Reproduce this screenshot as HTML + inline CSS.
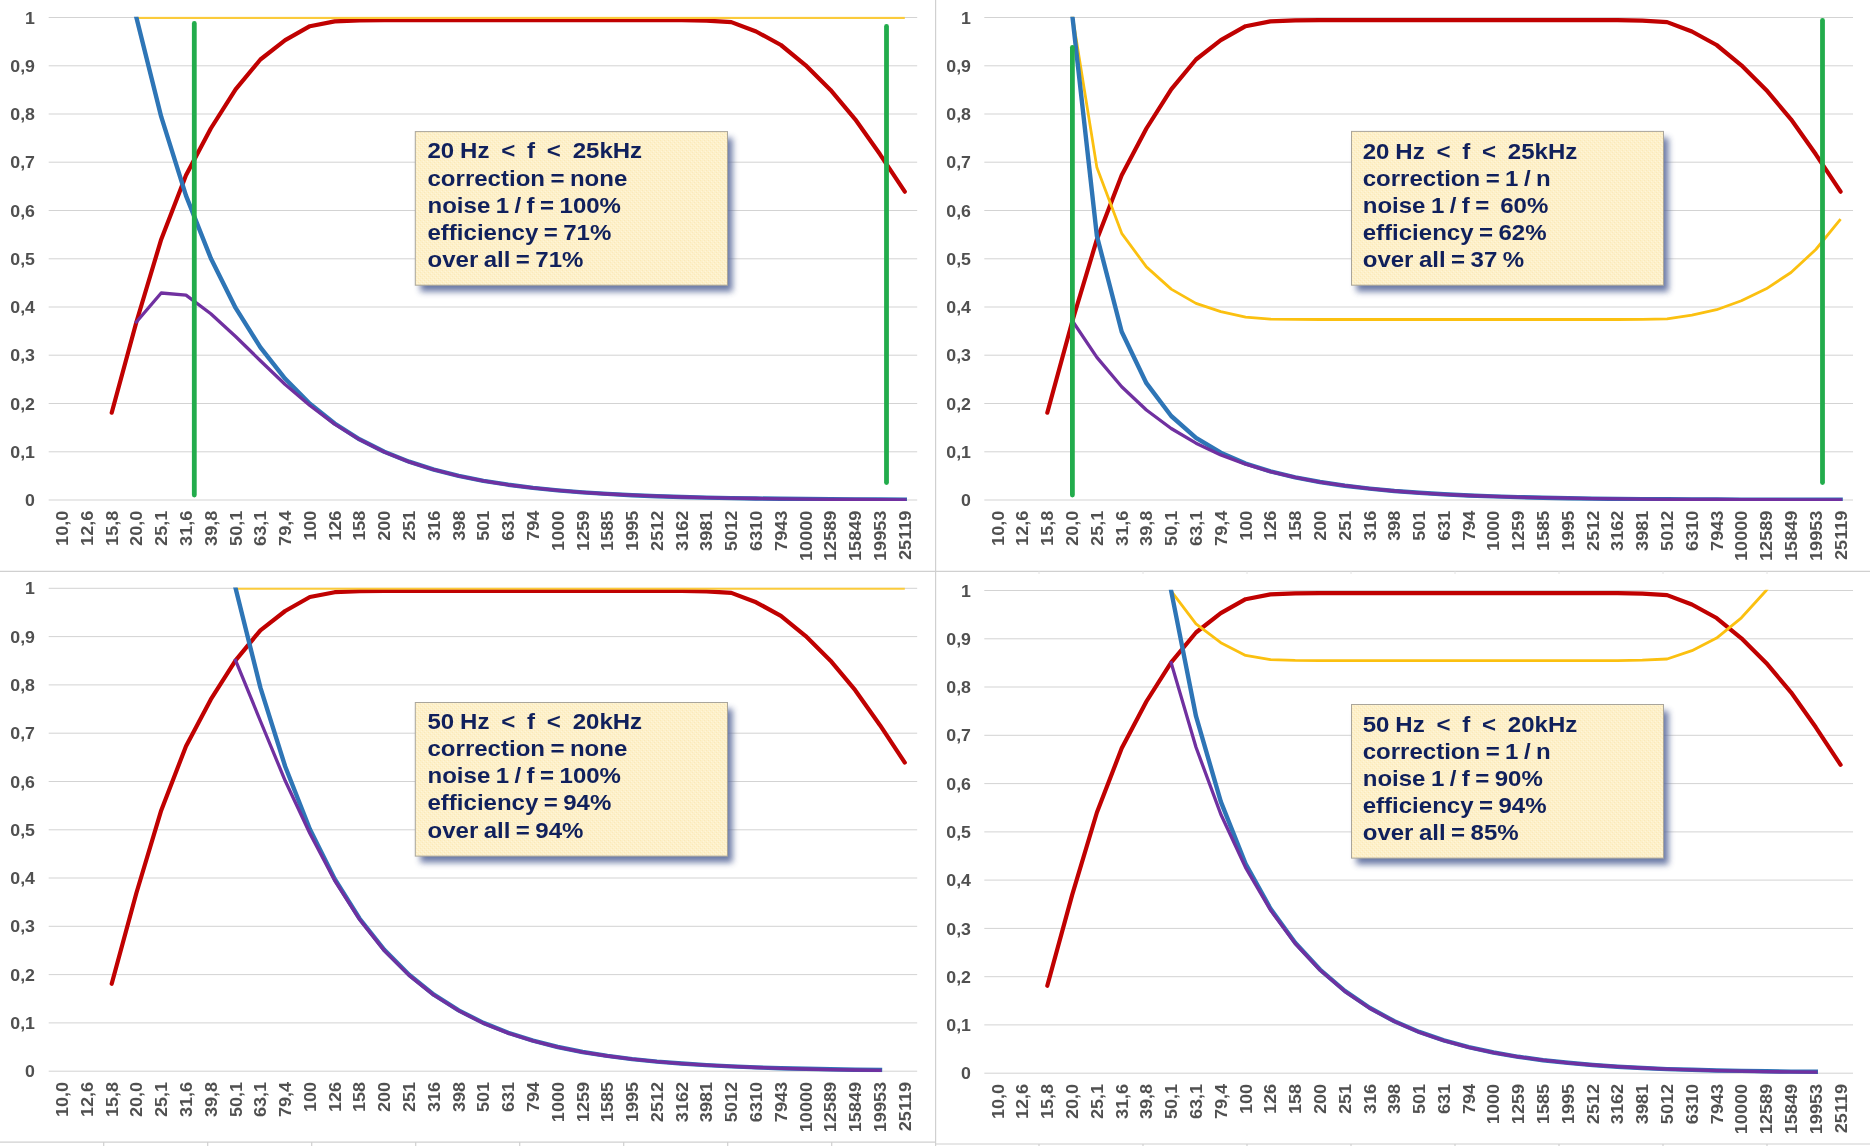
<!DOCTYPE html>
<html><head><meta charset="utf-8"><title>chart</title>
<style>
html,body{margin:0;padding:0;background:#fff;}
body{width:1870px;height:1146px;overflow:hidden;position:relative;font-family:"Liberation Sans",sans-serif;}
svg text{font-family:"Liberation Sans",sans-serif;}
</style></head><body>
<svg width="1870" height="1146" viewBox="0 0 1870 1146" style="position:absolute;left:0;top:0;opacity:0.9999;will-change:transform">
<defs>
<filter id="sh" x="-10%" y="-10%" width="125%" height="130%"><feGaussianBlur stdDeviation="3.0"/></filter>
<pattern id="tx" width="4" height="4" patternUnits="userSpaceOnUse"><rect width="4" height="4" fill="#fdf0ca"/><rect x="0" y="0" width="1" height="1" fill="#fbe9b8"/><rect x="2" y="2" width="1" height="1" fill="#fbe9b8"/><rect x="1" y="3" width="1" height="1" fill="#fff6d8"/><rect x="3" y="1" width="1" height="1" fill="#fff6d8"/></pattern>
</defs>
<rect width="1870" height="1146" fill="#ffffff"/>
<line x1="0" y1="571.4" x2="1870" y2="571.4" stroke="#d0d0d0" stroke-width="1.2"/>
<line x1="935.6" y1="0" x2="935.6" y2="1146" stroke="#d0d0d0" stroke-width="1.2"/>
<line x1="0" y1="1142.2" x2="935" y2="1142.2" stroke="#d0d0d0" stroke-width="1.2"/>
<line x1="936" y1="1144" x2="1870" y2="1144" stroke="#d0d0d0" stroke-width="1.2"/>
<line x1="103.7" y1="1142" x2="103.7" y2="1146" stroke="#d0d0d0" stroke-width="1.2"/>
<line x1="1039.0" y1="1144" x2="1039.0" y2="1146" stroke="#d0d0d0" stroke-width="1.2"/>
<line x1="1039.0" y1="571.4" x2="1039.0" y2="574" stroke="#e4e4e4" stroke-width="1"/>
<line x1="207.7" y1="1142" x2="207.7" y2="1146" stroke="#d0d0d0" stroke-width="1.2"/>
<line x1="1143.0" y1="1144" x2="1143.0" y2="1146" stroke="#d0d0d0" stroke-width="1.2"/>
<line x1="1143.0" y1="571.4" x2="1143.0" y2="574" stroke="#e4e4e4" stroke-width="1"/>
<line x1="311.7" y1="1142" x2="311.7" y2="1146" stroke="#d0d0d0" stroke-width="1.2"/>
<line x1="1247.0" y1="1144" x2="1247.0" y2="1146" stroke="#d0d0d0" stroke-width="1.2"/>
<line x1="1247.0" y1="571.4" x2="1247.0" y2="574" stroke="#e4e4e4" stroke-width="1"/>
<line x1="415.7" y1="1142" x2="415.7" y2="1146" stroke="#d0d0d0" stroke-width="1.2"/>
<line x1="1351.0" y1="1144" x2="1351.0" y2="1146" stroke="#d0d0d0" stroke-width="1.2"/>
<line x1="1351.0" y1="571.4" x2="1351.0" y2="574" stroke="#e4e4e4" stroke-width="1"/>
<line x1="519.7" y1="1142" x2="519.7" y2="1146" stroke="#d0d0d0" stroke-width="1.2"/>
<line x1="1455.0" y1="1144" x2="1455.0" y2="1146" stroke="#d0d0d0" stroke-width="1.2"/>
<line x1="1455.0" y1="571.4" x2="1455.0" y2="574" stroke="#e4e4e4" stroke-width="1"/>
<line x1="623.7" y1="1142" x2="623.7" y2="1146" stroke="#d0d0d0" stroke-width="1.2"/>
<line x1="1559.0" y1="1144" x2="1559.0" y2="1146" stroke="#d0d0d0" stroke-width="1.2"/>
<line x1="1559.0" y1="571.4" x2="1559.0" y2="574" stroke="#e4e4e4" stroke-width="1"/>
<line x1="727.7" y1="1142" x2="727.7" y2="1146" stroke="#d0d0d0" stroke-width="1.2"/>
<line x1="1663.0" y1="1144" x2="1663.0" y2="1146" stroke="#d0d0d0" stroke-width="1.2"/>
<line x1="1663.0" y1="571.4" x2="1663.0" y2="574" stroke="#e4e4e4" stroke-width="1"/>
<line x1="831.7" y1="1142" x2="831.7" y2="1146" stroke="#d0d0d0" stroke-width="1.2"/>
<line x1="1767.0" y1="1144" x2="1767.0" y2="1146" stroke="#d0d0d0" stroke-width="1.2"/>
<line x1="1767.0" y1="571.4" x2="1767.0" y2="574" stroke="#e4e4e4" stroke-width="1"/>
<g id="TL">
<line x1="48.7" y1="500.0" x2="917.2" y2="500.0" stroke="#d3d3d3" stroke-width="1"/>
<line x1="48.7" y1="451.8" x2="917.2" y2="451.8" stroke="#d3d3d3" stroke-width="1"/>
<line x1="48.7" y1="403.5" x2="917.2" y2="403.5" stroke="#d3d3d3" stroke-width="1"/>
<line x1="48.7" y1="355.2" x2="917.2" y2="355.2" stroke="#d3d3d3" stroke-width="1"/>
<line x1="48.7" y1="307.0" x2="917.2" y2="307.0" stroke="#d3d3d3" stroke-width="1"/>
<line x1="48.7" y1="258.8" x2="917.2" y2="258.8" stroke="#d3d3d3" stroke-width="1"/>
<line x1="48.7" y1="210.5" x2="917.2" y2="210.5" stroke="#d3d3d3" stroke-width="1"/>
<line x1="48.7" y1="162.2" x2="917.2" y2="162.2" stroke="#d3d3d3" stroke-width="1"/>
<line x1="48.7" y1="114.0" x2="917.2" y2="114.0" stroke="#d3d3d3" stroke-width="1"/>
<line x1="48.7" y1="65.8" x2="917.2" y2="65.8" stroke="#d3d3d3" stroke-width="1"/>
<line x1="48.7" y1="17.5" x2="917.2" y2="17.5" stroke="#d3d3d3" stroke-width="1"/>
<text transform="translate(35,506.1) scale(1.07,1)" text-anchor="end" font-size="16.6" font-weight="bold" fill="#505050">0</text>
<text transform="translate(35,457.9) scale(1.07,1)" text-anchor="end" font-size="16.6" font-weight="bold" fill="#505050">0,1</text>
<text transform="translate(35,409.6) scale(1.07,1)" text-anchor="end" font-size="16.6" font-weight="bold" fill="#505050">0,2</text>
<text transform="translate(35,361.4) scale(1.07,1)" text-anchor="end" font-size="16.6" font-weight="bold" fill="#505050">0,3</text>
<text transform="translate(35,313.1) scale(1.07,1)" text-anchor="end" font-size="16.6" font-weight="bold" fill="#505050">0,4</text>
<text transform="translate(35,264.9) scale(1.07,1)" text-anchor="end" font-size="16.6" font-weight="bold" fill="#505050">0,5</text>
<text transform="translate(35,216.6) scale(1.07,1)" text-anchor="end" font-size="16.6" font-weight="bold" fill="#505050">0,6</text>
<text transform="translate(35,168.3) scale(1.07,1)" text-anchor="end" font-size="16.6" font-weight="bold" fill="#505050">0,7</text>
<text transform="translate(35,120.1) scale(1.07,1)" text-anchor="end" font-size="16.6" font-weight="bold" fill="#505050">0,8</text>
<text transform="translate(35,71.8) scale(1.07,1)" text-anchor="end" font-size="16.6" font-weight="bold" fill="#505050">0,9</text>
<text transform="translate(35,23.6) scale(1.07,1)" text-anchor="end" font-size="16.6" font-weight="bold" fill="#505050">1</text>
<text transform="translate(68.0,510.6) rotate(-90) scale(1.12,1)" text-anchor="end" font-size="16.2" font-weight="bold" fill="#505050">10,0</text>
<text transform="translate(92.8,510.6) rotate(-90) scale(1.12,1)" text-anchor="end" font-size="16.2" font-weight="bold" fill="#505050">12,6</text>
<text transform="translate(117.6,510.6) rotate(-90) scale(1.12,1)" text-anchor="end" font-size="16.2" font-weight="bold" fill="#505050">15,8</text>
<text transform="translate(142.3,510.6) rotate(-90) scale(1.12,1)" text-anchor="end" font-size="16.2" font-weight="bold" fill="#505050">20,0</text>
<text transform="translate(167.1,510.6) rotate(-90) scale(1.12,1)" text-anchor="end" font-size="16.2" font-weight="bold" fill="#505050">25,1</text>
<text transform="translate(191.9,510.6) rotate(-90) scale(1.12,1)" text-anchor="end" font-size="16.2" font-weight="bold" fill="#505050">31,6</text>
<text transform="translate(216.7,510.6) rotate(-90) scale(1.12,1)" text-anchor="end" font-size="16.2" font-weight="bold" fill="#505050">39,8</text>
<text transform="translate(241.5,510.6) rotate(-90) scale(1.12,1)" text-anchor="end" font-size="16.2" font-weight="bold" fill="#505050">50,1</text>
<text transform="translate(266.3,510.6) rotate(-90) scale(1.12,1)" text-anchor="end" font-size="16.2" font-weight="bold" fill="#505050">63,1</text>
<text transform="translate(291.1,510.6) rotate(-90) scale(1.12,1)" text-anchor="end" font-size="16.2" font-weight="bold" fill="#505050">79,4</text>
<text transform="translate(315.8,510.6) rotate(-90) scale(1.12,1)" text-anchor="end" font-size="16.2" font-weight="bold" fill="#505050">100</text>
<text transform="translate(340.6,510.6) rotate(-90) scale(1.12,1)" text-anchor="end" font-size="16.2" font-weight="bold" fill="#505050">126</text>
<text transform="translate(365.4,510.6) rotate(-90) scale(1.12,1)" text-anchor="end" font-size="16.2" font-weight="bold" fill="#505050">158</text>
<text transform="translate(390.2,510.6) rotate(-90) scale(1.12,1)" text-anchor="end" font-size="16.2" font-weight="bold" fill="#505050">200</text>
<text transform="translate(415.0,510.6) rotate(-90) scale(1.12,1)" text-anchor="end" font-size="16.2" font-weight="bold" fill="#505050">251</text>
<text transform="translate(439.8,510.6) rotate(-90) scale(1.12,1)" text-anchor="end" font-size="16.2" font-weight="bold" fill="#505050">316</text>
<text transform="translate(464.6,510.6) rotate(-90) scale(1.12,1)" text-anchor="end" font-size="16.2" font-weight="bold" fill="#505050">398</text>
<text transform="translate(489.3,510.6) rotate(-90) scale(1.12,1)" text-anchor="end" font-size="16.2" font-weight="bold" fill="#505050">501</text>
<text transform="translate(514.1,510.6) rotate(-90) scale(1.12,1)" text-anchor="end" font-size="16.2" font-weight="bold" fill="#505050">631</text>
<text transform="translate(538.9,510.6) rotate(-90) scale(1.12,1)" text-anchor="end" font-size="16.2" font-weight="bold" fill="#505050">794</text>
<text transform="translate(563.7,510.6) rotate(-90) scale(1.12,1)" text-anchor="end" font-size="16.2" font-weight="bold" fill="#505050">1000</text>
<text transform="translate(588.5,510.6) rotate(-90) scale(1.12,1)" text-anchor="end" font-size="16.2" font-weight="bold" fill="#505050">1259</text>
<text transform="translate(613.3,510.6) rotate(-90) scale(1.12,1)" text-anchor="end" font-size="16.2" font-weight="bold" fill="#505050">1585</text>
<text transform="translate(638.1,510.6) rotate(-90) scale(1.12,1)" text-anchor="end" font-size="16.2" font-weight="bold" fill="#505050">1995</text>
<text transform="translate(662.9,510.6) rotate(-90) scale(1.12,1)" text-anchor="end" font-size="16.2" font-weight="bold" fill="#505050">2512</text>
<text transform="translate(687.6,510.6) rotate(-90) scale(1.12,1)" text-anchor="end" font-size="16.2" font-weight="bold" fill="#505050">3162</text>
<text transform="translate(712.4,510.6) rotate(-90) scale(1.12,1)" text-anchor="end" font-size="16.2" font-weight="bold" fill="#505050">3981</text>
<text transform="translate(737.2,510.6) rotate(-90) scale(1.12,1)" text-anchor="end" font-size="16.2" font-weight="bold" fill="#505050">5012</text>
<text transform="translate(762.0,510.6) rotate(-90) scale(1.12,1)" text-anchor="end" font-size="16.2" font-weight="bold" fill="#505050">6310</text>
<text transform="translate(786.8,510.6) rotate(-90) scale(1.12,1)" text-anchor="end" font-size="16.2" font-weight="bold" fill="#505050">7943</text>
<text transform="translate(811.6,510.6) rotate(-90) scale(1.12,1)" text-anchor="end" font-size="16.2" font-weight="bold" fill="#505050">10000</text>
<text transform="translate(836.4,510.6) rotate(-90) scale(1.12,1)" text-anchor="end" font-size="16.2" font-weight="bold" fill="#505050">12589</text>
<text transform="translate(861.1,510.6) rotate(-90) scale(1.12,1)" text-anchor="end" font-size="16.2" font-weight="bold" fill="#505050">15849</text>
<text transform="translate(885.9,510.6) rotate(-90) scale(1.12,1)" text-anchor="end" font-size="16.2" font-weight="bold" fill="#505050">19953</text>
<text transform="translate(910.7,510.6) rotate(-90) scale(1.12,1)" text-anchor="end" font-size="16.2" font-weight="bold" fill="#505050">25119</text>
<clipPath id="cTL"><rect x="44.7" y="16.7" width="877.5" height="484.4"/></clipPath>
<g clip-path="url(#cTL)" fill="none" stroke-linejoin="round">
<polyline points="111.7,412.7 136.4,322.0 161.2,239.4 186.0,175.3 210.8,128.5 235.6,89.4 260.4,59.5 285.2,40.2 309.9,26.2 334.7,21.4 359.5,20.4 384.3,20.2 409.1,20.2 433.9,20.2 458.7,20.2 483.4,20.2 508.2,20.2 533.0,20.2 557.8,20.2 582.6,20.2 607.4,20.2 632.2,20.2 657.0,20.2 681.7,20.2 706.5,20.6 731.3,22.1 756.1,31.5 780.9,45.0 805.7,65.3 830.5,89.9 855.2,119.3 880.0,154.3 904.8,191.7" stroke="#c00000" stroke-width="4.2" stroke-linecap="round"/>
<polyline points="136.4,17.8 161.2,17.8 186.0,17.8 210.8,17.8 235.6,17.8 260.4,17.8 285.2,17.8 309.9,17.8 334.7,17.8 359.5,17.8 384.3,17.8 409.1,17.8 433.9,17.8 458.7,17.8 483.4,17.8 508.2,17.8 533.0,17.8 557.8,17.8 582.6,17.8 607.4,17.8 632.2,17.8 657.0,17.8 681.7,17.8 706.5,17.8 731.3,17.8 756.1,17.8 780.9,17.8 805.7,17.8 830.5,17.8 855.2,17.8 880.0,17.8 904.8,17.8" stroke="#fbcb3c" stroke-width="2.4"/>
<polyline points="136.4,17.5 161.2,116.7 186.0,195.6 210.8,258.2 235.6,307.9 260.4,347.4 285.2,378.8 309.9,403.7 334.7,423.5 359.5,439.3 384.3,451.8 409.1,461.7 433.9,469.6 458.7,475.8 483.4,480.8 508.2,484.7 533.0,487.9 557.8,490.4 582.6,492.4 607.4,493.9 632.2,495.2 657.0,496.2 681.7,497.0 706.5,497.6 731.3,498.1 756.1,498.5 780.9,498.8 805.7,499.0 830.5,499.2 855.2,499.4 880.0,499.5 904.8,499.6" stroke="#2e75b6" stroke-width="4.4" stroke-linecap="square"/>
<polyline points="136.4,322.0 161.2,293.0 186.0,295.1 210.8,313.8 235.6,336.5 260.4,360.7 285.2,384.5 309.9,405.5 334.7,424.1 359.5,439.6 384.3,452.0 409.1,461.9 433.9,469.7 458.7,476.0 483.4,480.9 508.2,484.8 533.0,487.9 557.8,490.4 582.6,492.4 607.4,494.0 632.2,495.2 657.0,496.2 681.7,497.0 706.5,497.6 731.3,498.1 756.1,498.5 780.9,498.9 805.7,499.1 830.5,499.3 855.2,499.5 880.0,499.7 904.8,499.8" stroke="#7030a0" stroke-width="3.3" stroke-linecap="square"/>
<line x1="194.3" y1="23.4" x2="194.3" y2="495.1" stroke="#22ac4c" stroke-width="4.8" stroke-linecap="round"/>
<line x1="886.5" y1="26.4" x2="886.5" y2="482.6" stroke="#22ac4c" stroke-width="4.8" stroke-linecap="round"/>
</g>
<rect x="420.3" y="138.0" width="312.2" height="153.6" fill="#5c6c9c" opacity="0.9" filter="url(#sh)"/>
<rect x="415.3" y="131.6" width="312.2" height="153.6" fill="url(#tx)" stroke="#a9a59b" stroke-width="1"/>
<text transform="translate(427.5,158.4) scale(1.123,1)" font-size="21.4" font-weight="bold" fill="#10205c" style="word-spacing:-0.7px;white-space:pre" xml:space="preserve">20 Hz  &lt;  f  &lt;  25kHz</text>
<text transform="translate(427.5,185.5) scale(1.123,1)" font-size="21.4" font-weight="bold" fill="#10205c" style="word-spacing:-1.1px;white-space:pre" xml:space="preserve">correction = none</text>
<text transform="translate(427.5,212.5) scale(1.123,1)" font-size="21.4" font-weight="bold" fill="#10205c" style="word-spacing:-1.1px;white-space:pre" xml:space="preserve">noise 1 / f = 100%</text>
<text transform="translate(427.5,239.6) scale(1.123,1)" font-size="21.4" font-weight="bold" fill="#10205c" style="word-spacing:-1.1px;white-space:pre" xml:space="preserve">efficiency = 71%</text>
<text transform="translate(427.5,266.6) scale(1.123,1)" font-size="21.4" font-weight="bold" fill="#10205c" style="word-spacing:-1.1px;white-space:pre" xml:space="preserve">over all = 71%</text>
</g>
<g id="TR">
<line x1="984.3" y1="500.0" x2="1853.0" y2="500.0" stroke="#d3d3d3" stroke-width="1"/>
<line x1="984.3" y1="451.8" x2="1853.0" y2="451.8" stroke="#d3d3d3" stroke-width="1"/>
<line x1="984.3" y1="403.5" x2="1853.0" y2="403.5" stroke="#d3d3d3" stroke-width="1"/>
<line x1="984.3" y1="355.2" x2="1853.0" y2="355.2" stroke="#d3d3d3" stroke-width="1"/>
<line x1="984.3" y1="307.0" x2="1853.0" y2="307.0" stroke="#d3d3d3" stroke-width="1"/>
<line x1="984.3" y1="258.8" x2="1853.0" y2="258.8" stroke="#d3d3d3" stroke-width="1"/>
<line x1="984.3" y1="210.5" x2="1853.0" y2="210.5" stroke="#d3d3d3" stroke-width="1"/>
<line x1="984.3" y1="162.2" x2="1853.0" y2="162.2" stroke="#d3d3d3" stroke-width="1"/>
<line x1="984.3" y1="114.0" x2="1853.0" y2="114.0" stroke="#d3d3d3" stroke-width="1"/>
<line x1="984.3" y1="65.8" x2="1853.0" y2="65.8" stroke="#d3d3d3" stroke-width="1"/>
<line x1="984.3" y1="17.5" x2="1853.0" y2="17.5" stroke="#d3d3d3" stroke-width="1"/>
<text transform="translate(971,506.1) scale(1.07,1)" text-anchor="end" font-size="16.6" font-weight="bold" fill="#505050">0</text>
<text transform="translate(971,457.9) scale(1.07,1)" text-anchor="end" font-size="16.6" font-weight="bold" fill="#505050">0,1</text>
<text transform="translate(971,409.6) scale(1.07,1)" text-anchor="end" font-size="16.6" font-weight="bold" fill="#505050">0,2</text>
<text transform="translate(971,361.4) scale(1.07,1)" text-anchor="end" font-size="16.6" font-weight="bold" fill="#505050">0,3</text>
<text transform="translate(971,313.1) scale(1.07,1)" text-anchor="end" font-size="16.6" font-weight="bold" fill="#505050">0,4</text>
<text transform="translate(971,264.9) scale(1.07,1)" text-anchor="end" font-size="16.6" font-weight="bold" fill="#505050">0,5</text>
<text transform="translate(971,216.6) scale(1.07,1)" text-anchor="end" font-size="16.6" font-weight="bold" fill="#505050">0,6</text>
<text transform="translate(971,168.3) scale(1.07,1)" text-anchor="end" font-size="16.6" font-weight="bold" fill="#505050">0,7</text>
<text transform="translate(971,120.1) scale(1.07,1)" text-anchor="end" font-size="16.6" font-weight="bold" fill="#505050">0,8</text>
<text transform="translate(971,71.8) scale(1.07,1)" text-anchor="end" font-size="16.6" font-weight="bold" fill="#505050">0,9</text>
<text transform="translate(971,23.6) scale(1.07,1)" text-anchor="end" font-size="16.6" font-weight="bold" fill="#505050">1</text>
<text transform="translate(1003.6,510.6) rotate(-90) scale(1.12,1)" text-anchor="end" font-size="16.2" font-weight="bold" fill="#505050">10,0</text>
<text transform="translate(1028.4,510.6) rotate(-90) scale(1.12,1)" text-anchor="end" font-size="16.2" font-weight="bold" fill="#505050">12,6</text>
<text transform="translate(1053.2,510.6) rotate(-90) scale(1.12,1)" text-anchor="end" font-size="16.2" font-weight="bold" fill="#505050">15,8</text>
<text transform="translate(1078.0,510.6) rotate(-90) scale(1.12,1)" text-anchor="end" font-size="16.2" font-weight="bold" fill="#505050">20,0</text>
<text transform="translate(1102.8,510.6) rotate(-90) scale(1.12,1)" text-anchor="end" font-size="16.2" font-weight="bold" fill="#505050">25,1</text>
<text transform="translate(1127.6,510.6) rotate(-90) scale(1.12,1)" text-anchor="end" font-size="16.2" font-weight="bold" fill="#505050">31,6</text>
<text transform="translate(1152.3,510.6) rotate(-90) scale(1.12,1)" text-anchor="end" font-size="16.2" font-weight="bold" fill="#505050">39,8</text>
<text transform="translate(1177.1,510.6) rotate(-90) scale(1.12,1)" text-anchor="end" font-size="16.2" font-weight="bold" fill="#505050">50,1</text>
<text transform="translate(1201.9,510.6) rotate(-90) scale(1.12,1)" text-anchor="end" font-size="16.2" font-weight="bold" fill="#505050">63,1</text>
<text transform="translate(1226.7,510.6) rotate(-90) scale(1.12,1)" text-anchor="end" font-size="16.2" font-weight="bold" fill="#505050">79,4</text>
<text transform="translate(1251.5,510.6) rotate(-90) scale(1.12,1)" text-anchor="end" font-size="16.2" font-weight="bold" fill="#505050">100</text>
<text transform="translate(1276.3,510.6) rotate(-90) scale(1.12,1)" text-anchor="end" font-size="16.2" font-weight="bold" fill="#505050">126</text>
<text transform="translate(1301.1,510.6) rotate(-90) scale(1.12,1)" text-anchor="end" font-size="16.2" font-weight="bold" fill="#505050">158</text>
<text transform="translate(1325.9,510.6) rotate(-90) scale(1.12,1)" text-anchor="end" font-size="16.2" font-weight="bold" fill="#505050">200</text>
<text transform="translate(1350.7,510.6) rotate(-90) scale(1.12,1)" text-anchor="end" font-size="16.2" font-weight="bold" fill="#505050">251</text>
<text transform="translate(1375.5,510.6) rotate(-90) scale(1.12,1)" text-anchor="end" font-size="16.2" font-weight="bold" fill="#505050">316</text>
<text transform="translate(1400.3,510.6) rotate(-90) scale(1.12,1)" text-anchor="end" font-size="16.2" font-weight="bold" fill="#505050">398</text>
<text transform="translate(1425.1,510.6) rotate(-90) scale(1.12,1)" text-anchor="end" font-size="16.2" font-weight="bold" fill="#505050">501</text>
<text transform="translate(1449.8,510.6) rotate(-90) scale(1.12,1)" text-anchor="end" font-size="16.2" font-weight="bold" fill="#505050">631</text>
<text transform="translate(1474.6,510.6) rotate(-90) scale(1.12,1)" text-anchor="end" font-size="16.2" font-weight="bold" fill="#505050">794</text>
<text transform="translate(1499.4,510.6) rotate(-90) scale(1.12,1)" text-anchor="end" font-size="16.2" font-weight="bold" fill="#505050">1000</text>
<text transform="translate(1524.2,510.6) rotate(-90) scale(1.12,1)" text-anchor="end" font-size="16.2" font-weight="bold" fill="#505050">1259</text>
<text transform="translate(1549.0,510.6) rotate(-90) scale(1.12,1)" text-anchor="end" font-size="16.2" font-weight="bold" fill="#505050">1585</text>
<text transform="translate(1573.8,510.6) rotate(-90) scale(1.12,1)" text-anchor="end" font-size="16.2" font-weight="bold" fill="#505050">1995</text>
<text transform="translate(1598.6,510.6) rotate(-90) scale(1.12,1)" text-anchor="end" font-size="16.2" font-weight="bold" fill="#505050">2512</text>
<text transform="translate(1623.4,510.6) rotate(-90) scale(1.12,1)" text-anchor="end" font-size="16.2" font-weight="bold" fill="#505050">3162</text>
<text transform="translate(1648.2,510.6) rotate(-90) scale(1.12,1)" text-anchor="end" font-size="16.2" font-weight="bold" fill="#505050">3981</text>
<text transform="translate(1673.0,510.6) rotate(-90) scale(1.12,1)" text-anchor="end" font-size="16.2" font-weight="bold" fill="#505050">5012</text>
<text transform="translate(1697.8,510.6) rotate(-90) scale(1.12,1)" text-anchor="end" font-size="16.2" font-weight="bold" fill="#505050">6310</text>
<text transform="translate(1722.5,510.6) rotate(-90) scale(1.12,1)" text-anchor="end" font-size="16.2" font-weight="bold" fill="#505050">7943</text>
<text transform="translate(1747.3,510.6) rotate(-90) scale(1.12,1)" text-anchor="end" font-size="16.2" font-weight="bold" fill="#505050">10000</text>
<text transform="translate(1772.1,510.6) rotate(-90) scale(1.12,1)" text-anchor="end" font-size="16.2" font-weight="bold" fill="#505050">12589</text>
<text transform="translate(1796.9,510.6) rotate(-90) scale(1.12,1)" text-anchor="end" font-size="16.2" font-weight="bold" fill="#505050">15849</text>
<text transform="translate(1821.7,510.6) rotate(-90) scale(1.12,1)" text-anchor="end" font-size="16.2" font-weight="bold" fill="#505050">19953</text>
<text transform="translate(1846.5,510.6) rotate(-90) scale(1.12,1)" text-anchor="end" font-size="16.2" font-weight="bold" fill="#505050">25119</text>
<clipPath id="cTR"><rect x="980.3" y="16.7" width="877.7" height="484.4"/></clipPath>
<g clip-path="url(#cTR)" fill="none" stroke-linejoin="round">
<polyline points="1047.3,412.7 1072.1,322.0 1096.9,239.4 1121.7,175.3 1146.4,128.5 1171.2,89.4 1196.0,59.5 1220.8,40.2 1245.6,26.2 1270.4,21.4 1295.2,20.4 1320.0,20.2 1344.8,20.2 1369.6,20.2 1394.4,20.2 1419.2,20.2 1443.9,20.2 1468.7,20.2 1493.5,20.2 1518.3,20.2 1543.1,20.2 1567.9,20.2 1592.7,20.2 1617.5,20.2 1642.3,20.6 1667.1,22.1 1691.9,31.5 1716.6,45.0 1741.4,65.3 1766.2,89.9 1791.0,119.3 1815.8,154.3 1840.6,191.7" stroke="#c00000" stroke-width="4.2" stroke-linecap="round"/>
<polyline points="1072.1,13.6 1096.9,167.6 1121.7,233.3 1146.4,266.9 1171.2,289.1 1196.0,303.4 1220.8,311.7 1245.6,317.2 1270.4,319.1 1295.2,319.4 1320.0,319.5 1344.8,319.5 1369.6,319.5 1394.4,319.5 1419.2,319.5 1443.9,319.5 1468.7,319.5 1493.5,319.5 1518.3,319.5 1543.1,319.5 1567.9,319.5 1592.7,319.5 1617.5,319.5 1642.3,319.3 1667.1,318.8 1691.9,315.1 1716.6,309.7 1741.4,300.8 1766.2,288.8 1791.0,272.5 1815.8,249.5 1840.6,219.1" stroke="#fbc010" stroke-width="2.8"/>
<polyline points="1072.1,13.6 1096.9,236.0 1121.7,331.7 1146.4,383.2 1171.2,416.0 1196.0,437.8 1220.8,452.7 1245.6,463.5 1270.4,471.3 1295.2,477.3 1320.0,482.0 1344.8,485.7 1369.6,488.6 1394.4,491.0 1419.2,492.8 1443.9,494.3 1468.7,495.5 1493.5,496.4 1518.3,497.1 1543.1,497.7 1567.9,498.2 1592.7,498.6 1617.5,498.9 1642.3,499.1 1667.1,499.3 1691.9,499.4 1716.6,499.5 1741.4,499.6 1766.2,499.7 1791.0,499.7 1815.8,499.7 1840.6,499.8" stroke="#2e75b6" stroke-width="4.4" stroke-linecap="square"/>
<polyline points="1072.1,320.5 1096.9,357.4 1121.7,386.7 1146.4,410.0 1171.2,428.5 1196.0,443.2 1220.8,454.9 1245.6,464.2 1270.4,471.6 1295.2,477.4 1320.0,482.1 1344.8,485.7 1369.6,488.7 1394.4,491.0 1419.2,492.9 1443.9,494.3 1468.7,495.5 1493.5,496.4 1518.3,497.2 1543.1,497.7 1567.9,498.2 1592.7,498.6 1617.5,498.9 1642.3,499.1 1667.1,499.3 1691.9,499.4 1716.6,499.5 1741.4,499.6 1766.2,499.7 1791.0,499.8 1815.8,499.8 1840.6,499.9" stroke="#7030a0" stroke-width="3.3" stroke-linecap="square"/>
<line x1="1072.4" y1="47.4" x2="1072.4" y2="495.1" stroke="#22ac4c" stroke-width="4.8" stroke-linecap="round"/>
<line x1="1822.5" y1="20.4" x2="1822.5" y2="482.6" stroke="#22ac4c" stroke-width="4.8" stroke-linecap="round"/>
</g>
<rect x="1356.5" y="137.8" width="312.0" height="153.8" fill="#5c6c9c" opacity="0.9" filter="url(#sh)"/>
<rect x="1351.5" y="131.4" width="312.0" height="153.8" fill="url(#tx)" stroke="#a9a59b" stroke-width="1"/>
<text transform="translate(1362.7,159.0) scale(1.123,1)" font-size="21.4" font-weight="bold" fill="#10205c" style="word-spacing:-0.7px;white-space:pre" xml:space="preserve">20 Hz  &lt;  f  &lt;  25kHz</text>
<text transform="translate(1362.7,186.1) scale(1.123,1)" font-size="21.4" font-weight="bold" fill="#10205c" style="word-spacing:-1.1px;white-space:pre" xml:space="preserve">correction = 1 / n</text>
<text transform="translate(1362.7,213.1) scale(1.123,1)" font-size="21.4" font-weight="bold" fill="#10205c" style="word-spacing:-1.1px;white-space:pre" xml:space="preserve">noise 1 / f =  60%</text>
<text transform="translate(1362.7,240.2) scale(1.123,1)" font-size="21.4" font-weight="bold" fill="#10205c" style="word-spacing:-1.1px;white-space:pre" xml:space="preserve">efficiency = 62%</text>
<text transform="translate(1362.7,267.2) scale(1.123,1)" font-size="21.4" font-weight="bold" fill="#10205c" style="word-spacing:-1.1px;white-space:pre" xml:space="preserve">over all = 37 %</text>
</g>
<g id="BL">
<line x1="48.7" y1="1071.2" x2="917.2" y2="1071.2" stroke="#d3d3d3" stroke-width="1"/>
<line x1="48.7" y1="1022.9" x2="917.2" y2="1022.9" stroke="#d3d3d3" stroke-width="1"/>
<line x1="48.7" y1="974.6" x2="917.2" y2="974.6" stroke="#d3d3d3" stroke-width="1"/>
<line x1="48.7" y1="926.3" x2="917.2" y2="926.3" stroke="#d3d3d3" stroke-width="1"/>
<line x1="48.7" y1="878.0" x2="917.2" y2="878.0" stroke="#d3d3d3" stroke-width="1"/>
<line x1="48.7" y1="829.8" x2="917.2" y2="829.8" stroke="#d3d3d3" stroke-width="1"/>
<line x1="48.7" y1="781.5" x2="917.2" y2="781.5" stroke="#d3d3d3" stroke-width="1"/>
<line x1="48.7" y1="733.2" x2="917.2" y2="733.2" stroke="#d3d3d3" stroke-width="1"/>
<line x1="48.7" y1="684.9" x2="917.2" y2="684.9" stroke="#d3d3d3" stroke-width="1"/>
<line x1="48.7" y1="636.6" x2="917.2" y2="636.6" stroke="#d3d3d3" stroke-width="1"/>
<line x1="48.7" y1="588.3" x2="917.2" y2="588.3" stroke="#d3d3d3" stroke-width="1"/>
<text transform="translate(35,1077.3) scale(1.07,1)" text-anchor="end" font-size="16.6" font-weight="bold" fill="#505050">0</text>
<text transform="translate(35,1029.0) scale(1.07,1)" text-anchor="end" font-size="16.6" font-weight="bold" fill="#505050">0,1</text>
<text transform="translate(35,980.7) scale(1.07,1)" text-anchor="end" font-size="16.6" font-weight="bold" fill="#505050">0,2</text>
<text transform="translate(35,932.4) scale(1.07,1)" text-anchor="end" font-size="16.6" font-weight="bold" fill="#505050">0,3</text>
<text transform="translate(35,884.1) scale(1.07,1)" text-anchor="end" font-size="16.6" font-weight="bold" fill="#505050">0,4</text>
<text transform="translate(35,835.9) scale(1.07,1)" text-anchor="end" font-size="16.6" font-weight="bold" fill="#505050">0,5</text>
<text transform="translate(35,787.6) scale(1.07,1)" text-anchor="end" font-size="16.6" font-weight="bold" fill="#505050">0,6</text>
<text transform="translate(35,739.3) scale(1.07,1)" text-anchor="end" font-size="16.6" font-weight="bold" fill="#505050">0,7</text>
<text transform="translate(35,691.0) scale(1.07,1)" text-anchor="end" font-size="16.6" font-weight="bold" fill="#505050">0,8</text>
<text transform="translate(35,642.7) scale(1.07,1)" text-anchor="end" font-size="16.6" font-weight="bold" fill="#505050">0,9</text>
<text transform="translate(35,594.4) scale(1.07,1)" text-anchor="end" font-size="16.6" font-weight="bold" fill="#505050">1</text>
<text transform="translate(68.0,1081.8) rotate(-90) scale(1.12,1)" text-anchor="end" font-size="16.2" font-weight="bold" fill="#505050">10,0</text>
<text transform="translate(92.8,1081.8) rotate(-90) scale(1.12,1)" text-anchor="end" font-size="16.2" font-weight="bold" fill="#505050">12,6</text>
<text transform="translate(117.6,1081.8) rotate(-90) scale(1.12,1)" text-anchor="end" font-size="16.2" font-weight="bold" fill="#505050">15,8</text>
<text transform="translate(142.3,1081.8) rotate(-90) scale(1.12,1)" text-anchor="end" font-size="16.2" font-weight="bold" fill="#505050">20,0</text>
<text transform="translate(167.1,1081.8) rotate(-90) scale(1.12,1)" text-anchor="end" font-size="16.2" font-weight="bold" fill="#505050">25,1</text>
<text transform="translate(191.9,1081.8) rotate(-90) scale(1.12,1)" text-anchor="end" font-size="16.2" font-weight="bold" fill="#505050">31,6</text>
<text transform="translate(216.7,1081.8) rotate(-90) scale(1.12,1)" text-anchor="end" font-size="16.2" font-weight="bold" fill="#505050">39,8</text>
<text transform="translate(241.5,1081.8) rotate(-90) scale(1.12,1)" text-anchor="end" font-size="16.2" font-weight="bold" fill="#505050">50,1</text>
<text transform="translate(266.3,1081.8) rotate(-90) scale(1.12,1)" text-anchor="end" font-size="16.2" font-weight="bold" fill="#505050">63,1</text>
<text transform="translate(291.1,1081.8) rotate(-90) scale(1.12,1)" text-anchor="end" font-size="16.2" font-weight="bold" fill="#505050">79,4</text>
<text transform="translate(315.8,1081.8) rotate(-90) scale(1.12,1)" text-anchor="end" font-size="16.2" font-weight="bold" fill="#505050">100</text>
<text transform="translate(340.6,1081.8) rotate(-90) scale(1.12,1)" text-anchor="end" font-size="16.2" font-weight="bold" fill="#505050">126</text>
<text transform="translate(365.4,1081.8) rotate(-90) scale(1.12,1)" text-anchor="end" font-size="16.2" font-weight="bold" fill="#505050">158</text>
<text transform="translate(390.2,1081.8) rotate(-90) scale(1.12,1)" text-anchor="end" font-size="16.2" font-weight="bold" fill="#505050">200</text>
<text transform="translate(415.0,1081.8) rotate(-90) scale(1.12,1)" text-anchor="end" font-size="16.2" font-weight="bold" fill="#505050">251</text>
<text transform="translate(439.8,1081.8) rotate(-90) scale(1.12,1)" text-anchor="end" font-size="16.2" font-weight="bold" fill="#505050">316</text>
<text transform="translate(464.6,1081.8) rotate(-90) scale(1.12,1)" text-anchor="end" font-size="16.2" font-weight="bold" fill="#505050">398</text>
<text transform="translate(489.3,1081.8) rotate(-90) scale(1.12,1)" text-anchor="end" font-size="16.2" font-weight="bold" fill="#505050">501</text>
<text transform="translate(514.1,1081.8) rotate(-90) scale(1.12,1)" text-anchor="end" font-size="16.2" font-weight="bold" fill="#505050">631</text>
<text transform="translate(538.9,1081.8) rotate(-90) scale(1.12,1)" text-anchor="end" font-size="16.2" font-weight="bold" fill="#505050">794</text>
<text transform="translate(563.7,1081.8) rotate(-90) scale(1.12,1)" text-anchor="end" font-size="16.2" font-weight="bold" fill="#505050">1000</text>
<text transform="translate(588.5,1081.8) rotate(-90) scale(1.12,1)" text-anchor="end" font-size="16.2" font-weight="bold" fill="#505050">1259</text>
<text transform="translate(613.3,1081.8) rotate(-90) scale(1.12,1)" text-anchor="end" font-size="16.2" font-weight="bold" fill="#505050">1585</text>
<text transform="translate(638.1,1081.8) rotate(-90) scale(1.12,1)" text-anchor="end" font-size="16.2" font-weight="bold" fill="#505050">1995</text>
<text transform="translate(662.9,1081.8) rotate(-90) scale(1.12,1)" text-anchor="end" font-size="16.2" font-weight="bold" fill="#505050">2512</text>
<text transform="translate(687.6,1081.8) rotate(-90) scale(1.12,1)" text-anchor="end" font-size="16.2" font-weight="bold" fill="#505050">3162</text>
<text transform="translate(712.4,1081.8) rotate(-90) scale(1.12,1)" text-anchor="end" font-size="16.2" font-weight="bold" fill="#505050">3981</text>
<text transform="translate(737.2,1081.8) rotate(-90) scale(1.12,1)" text-anchor="end" font-size="16.2" font-weight="bold" fill="#505050">5012</text>
<text transform="translate(762.0,1081.8) rotate(-90) scale(1.12,1)" text-anchor="end" font-size="16.2" font-weight="bold" fill="#505050">6310</text>
<text transform="translate(786.8,1081.8) rotate(-90) scale(1.12,1)" text-anchor="end" font-size="16.2" font-weight="bold" fill="#505050">7943</text>
<text transform="translate(811.6,1081.8) rotate(-90) scale(1.12,1)" text-anchor="end" font-size="16.2" font-weight="bold" fill="#505050">10000</text>
<text transform="translate(836.4,1081.8) rotate(-90) scale(1.12,1)" text-anchor="end" font-size="16.2" font-weight="bold" fill="#505050">12589</text>
<text transform="translate(861.1,1081.8) rotate(-90) scale(1.12,1)" text-anchor="end" font-size="16.2" font-weight="bold" fill="#505050">15849</text>
<text transform="translate(885.9,1081.8) rotate(-90) scale(1.12,1)" text-anchor="end" font-size="16.2" font-weight="bold" fill="#505050">19953</text>
<text transform="translate(910.7,1081.8) rotate(-90) scale(1.12,1)" text-anchor="end" font-size="16.2" font-weight="bold" fill="#505050">25119</text>
<clipPath id="cBL"><rect x="44.7" y="587.5" width="877.5" height="484.8"/></clipPath>
<g clip-path="url(#cBL)" fill="none" stroke-linejoin="round">
<polyline points="111.7,983.8 136.4,893.0 161.2,810.4 186.0,746.2 210.8,699.4 235.6,660.3 260.4,630.3 285.2,611.0 309.9,597.0 334.7,592.2 359.5,591.2 384.3,591.0 409.1,591.0 433.9,591.0 458.7,591.0 483.4,591.0 508.2,591.0 533.0,591.0 557.8,591.0 582.6,591.0 607.4,591.0 632.2,591.0 657.0,591.0 681.7,591.0 706.5,591.4 731.3,592.9 756.1,602.3 780.9,615.8 805.7,636.1 830.5,660.7 855.2,690.2 880.0,725.2 904.8,762.6" stroke="#c00000" stroke-width="4.2" stroke-linecap="round"/>
<polyline points="235.6,588.6 260.4,588.6 285.2,588.6 309.9,588.6 334.7,588.6 359.5,588.6 384.3,588.6 409.1,588.6 433.9,588.6 458.7,588.6 483.4,588.6 508.2,588.6 533.0,588.6 557.8,588.6 582.6,588.6 607.4,588.6 632.2,588.6 657.0,588.6 681.7,588.6 706.5,588.6 731.3,588.6 756.1,588.6 780.9,588.6 805.7,588.6 830.5,588.6 855.2,588.6 880.0,588.6 904.8,588.6" stroke="#fbcb3c" stroke-width="2.4"/>
<polyline points="235.6,588.3 260.4,687.6 285.2,766.5 309.9,829.2 334.7,879.0 359.5,918.5 384.3,949.9 409.1,974.8 433.9,994.7 458.7,1010.4 483.4,1022.9 508.2,1032.8 533.0,1040.7 557.8,1047.0 582.6,1052.0 607.4,1055.9 632.2,1059.1 657.0,1061.6 681.7,1063.5 706.5,1065.1 731.3,1066.4 756.1,1067.4 780.9,1068.2 805.7,1068.8 830.5,1069.3 855.2,1069.7 880.0,1070.0" stroke="#2e75b6" stroke-width="4.4" stroke-linecap="square"/>
<polyline points="235.6,660.3 260.4,721.0 285.2,780.8 309.9,833.5 334.7,880.5 359.5,919.4 384.3,950.6 409.1,975.4 433.9,995.1 458.7,1010.7 483.4,1023.2 508.2,1033.1 533.0,1040.9 557.8,1047.1 582.6,1052.1 607.4,1056.0 632.2,1059.1 657.0,1061.6 681.7,1063.6 706.5,1065.2 731.3,1066.4 756.1,1067.5 780.9,1068.3 805.7,1069.0 830.5,1069.6 855.2,1070.0 880.0,1070.3" stroke="#7030a0" stroke-width="3.3" stroke-linecap="square"/>
</g>
<rect x="420.3" y="708.9" width="312.2" height="153.6" fill="#5c6c9c" opacity="0.9" filter="url(#sh)"/>
<rect x="415.3" y="702.5" width="312.2" height="153.6" fill="url(#tx)" stroke="#a9a59b" stroke-width="1"/>
<text transform="translate(427.5,729.3) scale(1.123,1)" font-size="21.4" font-weight="bold" fill="#10205c" style="word-spacing:-0.7px;white-space:pre" xml:space="preserve">50 Hz  &lt;  f  &lt;  20kHz</text>
<text transform="translate(427.5,756.3) scale(1.123,1)" font-size="21.4" font-weight="bold" fill="#10205c" style="word-spacing:-1.1px;white-space:pre" xml:space="preserve">correction = none</text>
<text transform="translate(427.5,783.4) scale(1.123,1)" font-size="21.4" font-weight="bold" fill="#10205c" style="word-spacing:-1.1px;white-space:pre" xml:space="preserve">noise 1 / f = 100%</text>
<text transform="translate(427.5,810.4) scale(1.123,1)" font-size="21.4" font-weight="bold" fill="#10205c" style="word-spacing:-1.1px;white-space:pre" xml:space="preserve">efficiency = 94%</text>
<text transform="translate(427.5,837.5) scale(1.123,1)" font-size="21.4" font-weight="bold" fill="#10205c" style="word-spacing:-1.1px;white-space:pre" xml:space="preserve">over all = 94%</text>
</g>
<g id="BR">
<line x1="984.3" y1="1073.2" x2="1853.0" y2="1073.2" stroke="#d3d3d3" stroke-width="1"/>
<line x1="984.3" y1="1024.9" x2="1853.0" y2="1024.9" stroke="#d3d3d3" stroke-width="1"/>
<line x1="984.3" y1="976.7" x2="1853.0" y2="976.7" stroke="#d3d3d3" stroke-width="1"/>
<line x1="984.3" y1="928.4" x2="1853.0" y2="928.4" stroke="#d3d3d3" stroke-width="1"/>
<line x1="984.3" y1="880.1" x2="1853.0" y2="880.1" stroke="#d3d3d3" stroke-width="1"/>
<line x1="984.3" y1="831.9" x2="1853.0" y2="831.9" stroke="#d3d3d3" stroke-width="1"/>
<line x1="984.3" y1="783.6" x2="1853.0" y2="783.6" stroke="#d3d3d3" stroke-width="1"/>
<line x1="984.3" y1="735.3" x2="1853.0" y2="735.3" stroke="#d3d3d3" stroke-width="1"/>
<line x1="984.3" y1="687.0" x2="1853.0" y2="687.0" stroke="#d3d3d3" stroke-width="1"/>
<line x1="984.3" y1="638.8" x2="1853.0" y2="638.8" stroke="#d3d3d3" stroke-width="1"/>
<line x1="984.3" y1="590.5" x2="1853.0" y2="590.5" stroke="#d3d3d3" stroke-width="1"/>
<text transform="translate(971,1079.3) scale(1.07,1)" text-anchor="end" font-size="16.6" font-weight="bold" fill="#505050">0</text>
<text transform="translate(971,1031.0) scale(1.07,1)" text-anchor="end" font-size="16.6" font-weight="bold" fill="#505050">0,1</text>
<text transform="translate(971,982.8) scale(1.07,1)" text-anchor="end" font-size="16.6" font-weight="bold" fill="#505050">0,2</text>
<text transform="translate(971,934.5) scale(1.07,1)" text-anchor="end" font-size="16.6" font-weight="bold" fill="#505050">0,3</text>
<text transform="translate(971,886.2) scale(1.07,1)" text-anchor="end" font-size="16.6" font-weight="bold" fill="#505050">0,4</text>
<text transform="translate(971,838.0) scale(1.07,1)" text-anchor="end" font-size="16.6" font-weight="bold" fill="#505050">0,5</text>
<text transform="translate(971,789.7) scale(1.07,1)" text-anchor="end" font-size="16.6" font-weight="bold" fill="#505050">0,6</text>
<text transform="translate(971,741.4) scale(1.07,1)" text-anchor="end" font-size="16.6" font-weight="bold" fill="#505050">0,7</text>
<text transform="translate(971,693.1) scale(1.07,1)" text-anchor="end" font-size="16.6" font-weight="bold" fill="#505050">0,8</text>
<text transform="translate(971,644.9) scale(1.07,1)" text-anchor="end" font-size="16.6" font-weight="bold" fill="#505050">0,9</text>
<text transform="translate(971,596.6) scale(1.07,1)" text-anchor="end" font-size="16.6" font-weight="bold" fill="#505050">1</text>
<text transform="translate(1003.6,1083.8) rotate(-90) scale(1.12,1)" text-anchor="end" font-size="16.2" font-weight="bold" fill="#505050">10,0</text>
<text transform="translate(1028.4,1083.8) rotate(-90) scale(1.12,1)" text-anchor="end" font-size="16.2" font-weight="bold" fill="#505050">12,6</text>
<text transform="translate(1053.2,1083.8) rotate(-90) scale(1.12,1)" text-anchor="end" font-size="16.2" font-weight="bold" fill="#505050">15,8</text>
<text transform="translate(1078.0,1083.8) rotate(-90) scale(1.12,1)" text-anchor="end" font-size="16.2" font-weight="bold" fill="#505050">20,0</text>
<text transform="translate(1102.8,1083.8) rotate(-90) scale(1.12,1)" text-anchor="end" font-size="16.2" font-weight="bold" fill="#505050">25,1</text>
<text transform="translate(1127.6,1083.8) rotate(-90) scale(1.12,1)" text-anchor="end" font-size="16.2" font-weight="bold" fill="#505050">31,6</text>
<text transform="translate(1152.3,1083.8) rotate(-90) scale(1.12,1)" text-anchor="end" font-size="16.2" font-weight="bold" fill="#505050">39,8</text>
<text transform="translate(1177.1,1083.8) rotate(-90) scale(1.12,1)" text-anchor="end" font-size="16.2" font-weight="bold" fill="#505050">50,1</text>
<text transform="translate(1201.9,1083.8) rotate(-90) scale(1.12,1)" text-anchor="end" font-size="16.2" font-weight="bold" fill="#505050">63,1</text>
<text transform="translate(1226.7,1083.8) rotate(-90) scale(1.12,1)" text-anchor="end" font-size="16.2" font-weight="bold" fill="#505050">79,4</text>
<text transform="translate(1251.5,1083.8) rotate(-90) scale(1.12,1)" text-anchor="end" font-size="16.2" font-weight="bold" fill="#505050">100</text>
<text transform="translate(1276.3,1083.8) rotate(-90) scale(1.12,1)" text-anchor="end" font-size="16.2" font-weight="bold" fill="#505050">126</text>
<text transform="translate(1301.1,1083.8) rotate(-90) scale(1.12,1)" text-anchor="end" font-size="16.2" font-weight="bold" fill="#505050">158</text>
<text transform="translate(1325.9,1083.8) rotate(-90) scale(1.12,1)" text-anchor="end" font-size="16.2" font-weight="bold" fill="#505050">200</text>
<text transform="translate(1350.7,1083.8) rotate(-90) scale(1.12,1)" text-anchor="end" font-size="16.2" font-weight="bold" fill="#505050">251</text>
<text transform="translate(1375.5,1083.8) rotate(-90) scale(1.12,1)" text-anchor="end" font-size="16.2" font-weight="bold" fill="#505050">316</text>
<text transform="translate(1400.3,1083.8) rotate(-90) scale(1.12,1)" text-anchor="end" font-size="16.2" font-weight="bold" fill="#505050">398</text>
<text transform="translate(1425.1,1083.8) rotate(-90) scale(1.12,1)" text-anchor="end" font-size="16.2" font-weight="bold" fill="#505050">501</text>
<text transform="translate(1449.8,1083.8) rotate(-90) scale(1.12,1)" text-anchor="end" font-size="16.2" font-weight="bold" fill="#505050">631</text>
<text transform="translate(1474.6,1083.8) rotate(-90) scale(1.12,1)" text-anchor="end" font-size="16.2" font-weight="bold" fill="#505050">794</text>
<text transform="translate(1499.4,1083.8) rotate(-90) scale(1.12,1)" text-anchor="end" font-size="16.2" font-weight="bold" fill="#505050">1000</text>
<text transform="translate(1524.2,1083.8) rotate(-90) scale(1.12,1)" text-anchor="end" font-size="16.2" font-weight="bold" fill="#505050">1259</text>
<text transform="translate(1549.0,1083.8) rotate(-90) scale(1.12,1)" text-anchor="end" font-size="16.2" font-weight="bold" fill="#505050">1585</text>
<text transform="translate(1573.8,1083.8) rotate(-90) scale(1.12,1)" text-anchor="end" font-size="16.2" font-weight="bold" fill="#505050">1995</text>
<text transform="translate(1598.6,1083.8) rotate(-90) scale(1.12,1)" text-anchor="end" font-size="16.2" font-weight="bold" fill="#505050">2512</text>
<text transform="translate(1623.4,1083.8) rotate(-90) scale(1.12,1)" text-anchor="end" font-size="16.2" font-weight="bold" fill="#505050">3162</text>
<text transform="translate(1648.2,1083.8) rotate(-90) scale(1.12,1)" text-anchor="end" font-size="16.2" font-weight="bold" fill="#505050">3981</text>
<text transform="translate(1673.0,1083.8) rotate(-90) scale(1.12,1)" text-anchor="end" font-size="16.2" font-weight="bold" fill="#505050">5012</text>
<text transform="translate(1697.8,1083.8) rotate(-90) scale(1.12,1)" text-anchor="end" font-size="16.2" font-weight="bold" fill="#505050">6310</text>
<text transform="translate(1722.5,1083.8) rotate(-90) scale(1.12,1)" text-anchor="end" font-size="16.2" font-weight="bold" fill="#505050">7943</text>
<text transform="translate(1747.3,1083.8) rotate(-90) scale(1.12,1)" text-anchor="end" font-size="16.2" font-weight="bold" fill="#505050">10000</text>
<text transform="translate(1772.1,1083.8) rotate(-90) scale(1.12,1)" text-anchor="end" font-size="16.2" font-weight="bold" fill="#505050">12589</text>
<text transform="translate(1796.9,1083.8) rotate(-90) scale(1.12,1)" text-anchor="end" font-size="16.2" font-weight="bold" fill="#505050">15849</text>
<text transform="translate(1821.7,1083.8) rotate(-90) scale(1.12,1)" text-anchor="end" font-size="16.2" font-weight="bold" fill="#505050">19953</text>
<text transform="translate(1846.5,1083.8) rotate(-90) scale(1.12,1)" text-anchor="end" font-size="16.2" font-weight="bold" fill="#505050">25119</text>
<clipPath id="cBR"><rect x="980.3" y="589.7" width="877.7" height="484.6"/></clipPath>
<g clip-path="url(#cBR)" fill="none" stroke-linejoin="round">
<polyline points="1047.3,985.8 1072.1,895.1 1096.9,812.5 1121.7,748.3 1146.4,701.5 1171.2,662.4 1196.0,632.5 1220.8,613.2 1245.6,599.2 1270.4,594.4 1295.2,593.4 1320.0,593.2 1344.8,593.2 1369.6,593.2 1394.4,593.2 1419.2,593.2 1443.9,593.2 1468.7,593.2 1493.5,593.2 1518.3,593.2 1543.1,593.2 1567.9,593.2 1592.7,593.2 1617.5,593.2 1642.3,593.6 1667.1,595.1 1691.9,604.5 1716.6,618.0 1741.4,638.3 1766.2,662.9 1791.0,692.3 1815.8,727.3 1840.6,764.8" stroke="#c00000" stroke-width="4.2" stroke-linecap="round"/>
<polyline points="1171.2,591.1 1196.0,623.8 1220.8,642.7 1245.6,655.4 1270.4,659.6 1295.2,660.4 1320.0,660.6 1344.8,660.6 1369.6,660.6 1394.4,660.6 1419.2,660.6 1443.9,660.6 1468.7,660.6 1493.5,660.6 1518.3,660.6 1543.1,660.6 1567.9,660.6 1592.7,660.6 1617.5,660.6 1642.3,660.2 1667.1,659.0 1691.9,650.7 1716.6,638.1 1741.4,617.8 1766.2,590.5 1791.0,553.2 1815.8,500.6 1840.6,431.1" stroke="#fbc010" stroke-width="2.8"/>
<polyline points="1171.2,591.1 1196.0,716.2 1220.8,801.6 1245.6,863.8 1270.4,908.5 1295.2,942.7 1320.0,969.6 1344.8,990.9 1369.6,1007.8 1394.4,1021.3 1419.2,1031.9 1443.9,1040.4 1468.7,1047.2 1493.5,1052.5 1518.3,1056.8 1543.1,1060.2 1567.9,1062.8 1592.7,1065.0 1617.5,1066.7 1642.3,1068.0 1667.1,1069.1 1691.9,1069.8 1716.6,1070.5 1741.4,1070.9 1766.2,1071.3 1791.0,1071.6 1815.8,1071.8" stroke="#2e75b6" stroke-width="4.4" stroke-linecap="square"/>
<polyline points="1171.2,662.9 1196.0,747.3 1220.8,814.3 1245.6,867.6 1270.4,909.9 1295.2,943.5 1320.0,970.1 1344.8,991.3 1369.6,1008.2 1394.4,1021.5 1419.2,1032.2 1443.9,1040.6 1468.7,1047.3 1493.5,1052.6 1518.3,1056.9 1543.1,1060.2 1567.9,1062.9 1592.7,1065.0 1617.5,1066.7 1642.3,1068.0 1667.1,1069.1 1691.9,1069.9 1716.6,1070.6 1741.4,1071.1 1766.2,1071.6 1791.0,1071.9 1815.8,1072.2" stroke="#7030a0" stroke-width="3.3" stroke-linecap="square"/>
</g>
<rect x="1356.5" y="710.9" width="312.0" height="153.6" fill="#5c6c9c" opacity="0.9" filter="url(#sh)"/>
<rect x="1351.5" y="704.5" width="312.0" height="153.6" fill="url(#tx)" stroke="#a9a59b" stroke-width="1"/>
<text transform="translate(1362.7,732.1) scale(1.123,1)" font-size="21.4" font-weight="bold" fill="#10205c" style="word-spacing:-0.7px;white-space:pre" xml:space="preserve">50 Hz  &lt;  f  &lt;  20kHz</text>
<text transform="translate(1362.7,759.1) scale(1.123,1)" font-size="21.4" font-weight="bold" fill="#10205c" style="word-spacing:-1.1px;white-space:pre" xml:space="preserve">correction = 1 / n</text>
<text transform="translate(1362.7,786.2) scale(1.123,1)" font-size="21.4" font-weight="bold" fill="#10205c" style="word-spacing:-1.1px;white-space:pre" xml:space="preserve">noise 1 / f = 90%</text>
<text transform="translate(1362.7,813.2) scale(1.123,1)" font-size="21.4" font-weight="bold" fill="#10205c" style="word-spacing:-1.1px;white-space:pre" xml:space="preserve">efficiency = 94%</text>
<text transform="translate(1362.7,840.3) scale(1.123,1)" font-size="21.4" font-weight="bold" fill="#10205c" style="word-spacing:-1.1px;white-space:pre" xml:space="preserve">over all = 85%</text>
</g>
</svg>
</body></html>
